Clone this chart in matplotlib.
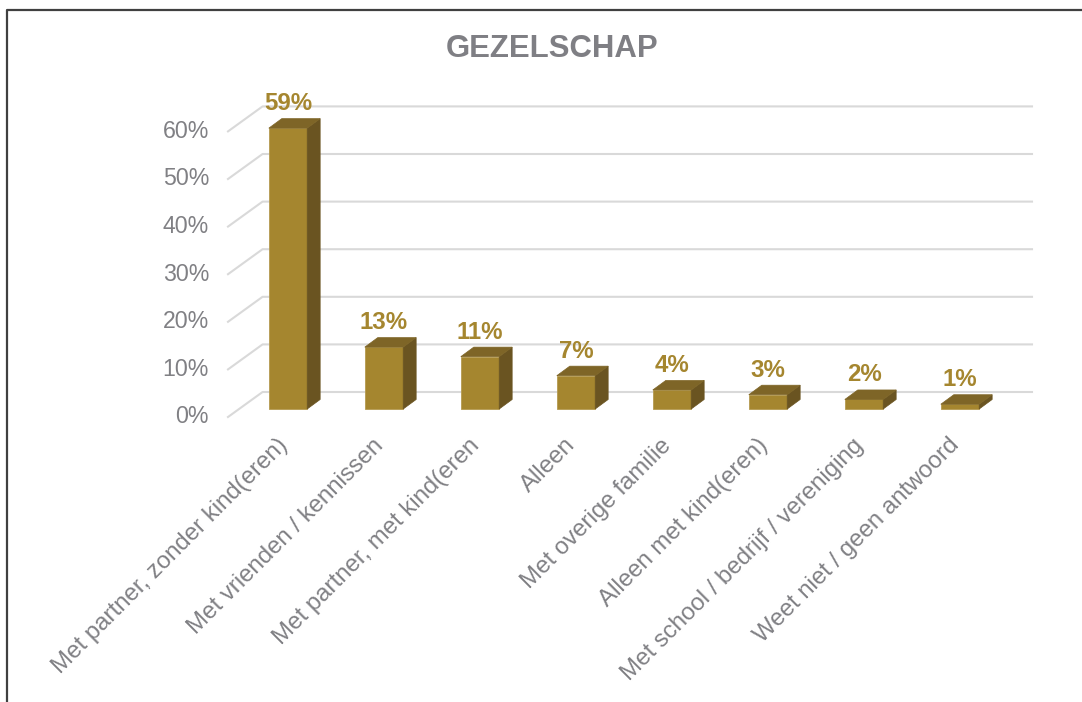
# GEZELSCHAP - 3D-look column chart (Excel style) redone in matplotlib
import matplotlib.pyplot as plt
from matplotlib.patches import Polygon, Rectangle
from matplotlib.lines import Line2D

plt.rcParams['font.family'] = ['Liberation Sans', 'DejaVu Sans']

categories = ['Met partner, zonder kind(eren)', 'Met vrienden / kennissen',
              'Met partner, met kind(eren', 'Alleen', 'Met overige familie',
              'Alleen met kind(eren)', 'Met school / bedrijf / vereniging',
              'Weet niet / geen antwoord']
values = [59, 13, 11, 7, 4, 3, 2, 1]
yticks = [0, 10, 20, 30, 40, 50, 60]
title = 'GEZELSCHAP'

FRONT_C = '#A5862F'
SIDE_C = '#6A5421'
TOP_C = '#7E6527'
GRID_C = '#d9d9d9'
TEXT_C = '#808084'

W, H = 1082, 702
fig = plt.figure(figsize=(W / 100, H / 100), dpi=100)
# axes spans the bar plane: x -0.5..7.5 categories, y 0..60 %
ax = fig.add_axes([240 / W, (H - 409) / H, 768 / W, 285.6 / H])
ax.set_xlim(-0.5, 7.5)
ax.set_ylim(0, 60)
ax.axis('off')

# depth offsets (data units) relative to the bar front plane
bar_dx, bar_dy = 0.135, 2.0
back_dx, back_dy = 0.245, 3.57
front_dx, front_dy = -0.115, -1.68
wall_x = -0.51
right_x = 7.75
half_w = 0.2

# gridlines: slanted side wall + back wall
for v in yticks:
    ax.add_line(Line2D([wall_x + front_dx, wall_x + back_dx, right_x],
                       [v + front_dy, v + back_dy, v + back_dy],
                       color=GRID_C, lw=1.5, zorder=1, clip_on=False))
    ax.text(-0.823, v + front_dy, f'{v}%', ha='right', va='center',
            fontsize=16.7, color=TEXT_C, clip_on=False)

for i, v in enumerate(values):
    x0, x1 = i - half_w, i + half_w
    ax.add_patch(Rectangle((x0, 0), x1 - x0, v, facecolor=FRONT_C,
                           edgecolor='#b59a50', lw=0.6, zorder=3, clip_on=False))
    ax.add_patch(Polygon([(x1, 0), (x1, v), (x1 + bar_dx, v + bar_dy), (x1 + bar_dx, bar_dy)],
                         closed=True, facecolor=SIDE_C, edgecolor=SIDE_C, lw=0.5,
                         zorder=3, clip_on=False))
    ax.add_patch(Polygon([(x0, v), (x1, v), (x1 + bar_dx, v + bar_dy), (x0 + bar_dx, v + bar_dy)],
                         closed=True, facecolor=TOP_C, edgecolor=TOP_C, lw=0.5,
                         zorder=3, clip_on=False))
    ax.annotate(f'{v}%', (i, v), xytext=(0, 24.5 * 0.72), textcoords='offset points',
                ha='center', va='center', fontsize=17.3, fontweight='bold',
                color=FRONT_C, zorder=4, annotation_clip=False)
    ax.text(i - 0.12, -5.3, categories[i], rotation=45, rotation_mode='anchor',
            ha='right', va='top', fontsize=17.3, color=TEXT_C, clip_on=False)

fig.text(552.5 / W, 1 - 49 / H, title, ha='center', va='center', fontsize=22.4,
         fontweight='bold', color='#7f7f84')

# chart border (top and left edge visible)
fig.add_artist(Line2D([6.5 / W, 6.5 / W, 1], [0, 1 - 9.5 / H, 1 - 9.5 / H],
                      color='#404040', lw=1.6))

fig.savefig('out.png', dpi=100)
